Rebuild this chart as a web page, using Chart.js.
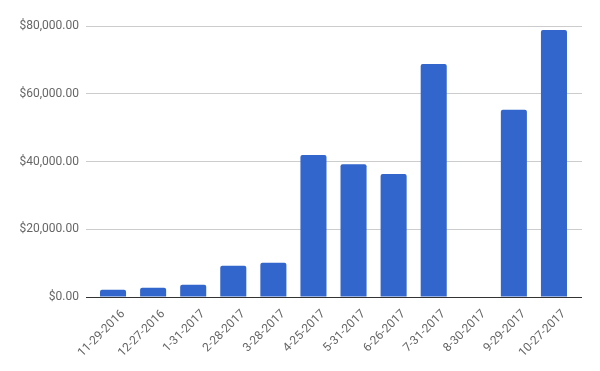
<!DOCTYPE html>
<html>
<head>
<meta charset="utf-8">
<script src="https://cdn.jsdelivr.net/npm/chart.js@4"></script>
<style>
  html, body { margin: 0; padding: 0; background: #fff; }
  #wrap { width: 600px; height: 371px; }
</style>
</head>
<body>
<div id="wrap"><canvas id="chart"></canvas></div>
<script>
const dates = ["11-29-2016", "12-27-2016", "1-31-2017", "2-28-2017", "3-28-2017", "4-25-2017",
  "5-31-2017", "6-26-2017", "7-31-2017", "8-30-2017", "9-29-2017", "10-27-2017"];
const amounts = [2150, 2700, 3600, 9200, 10100, 41900, 39200, 36300, 68800, 0, 55300, 78800];
const yTicks = [0, 20000, 40000, 60000, 80000];

const money = v => '$' + v.toLocaleString('en-US', { minimumFractionDigits: 2, maximumFractionDigits: 2 });
const gridColor = ctx => (ctx.tick && ctx.tick.value === 0) ? '#333333' : '#cccccc';
const setTicks = s => { s.ticks = yTicks.map(v => ({ value: v })); };

new Chart(document.getElementById('chart'), {
  type: 'bar',
  data: {
    labels: dates,
    datasets: [{
      label: 'Amount',
      data: amounts,
      backgroundColor: '#3366cc',
      borderRadius: 2,
      borderSkipped: 'bottom',
      categoryPercentage: 0.65,
      barPercentage: 1
    }]
  },
  options: {
    responsive: true,
    maintainAspectRatio: false,
    animation: false,
    layout: { padding: { top: 26, right: 0, left: 0, bottom: 0 } },
    plugins: { legend: { display: false }, tooltip: { enabled: false } },
    scales: {
      x: {
        grid: { display: false, drawTicks: false },
        border: { display: false },
        ticks: {
          color: '#666666',
          font: { family: 'Roboto', size: 12 },
          minRotation: 45,
          maxRotation: 45,
          padding: 10,
          labelOffset: 10
        },
        afterFit: s => { s.height = 74; }
      },
      y: {
        min: 0,
        max: 80000,
        afterBuildTicks: setTicks,
        grid: { color: gridColor, drawTicks: true, tickLength: 7 },
        border: { display: false },
        ticks: {
          color: '#666666',
          font: { family: 'Roboto', size: 12 },
          padding: 7,
          callback: v => money(v)
        },
        afterFit: s => { s.width = 93; }
      },
      y2: {
        position: 'right',
        min: 0,
        max: 80000,
        afterBuildTicks: setTicks,
        grid: { color: gridColor, drawOnChartArea: false, drawTicks: true, tickLength: 8 },
        border: { display: false },
        ticks: { display: false },
        afterFit: s => { s.width = 26; }
      }
    }
  }
});
</script>
</body>
</html>
